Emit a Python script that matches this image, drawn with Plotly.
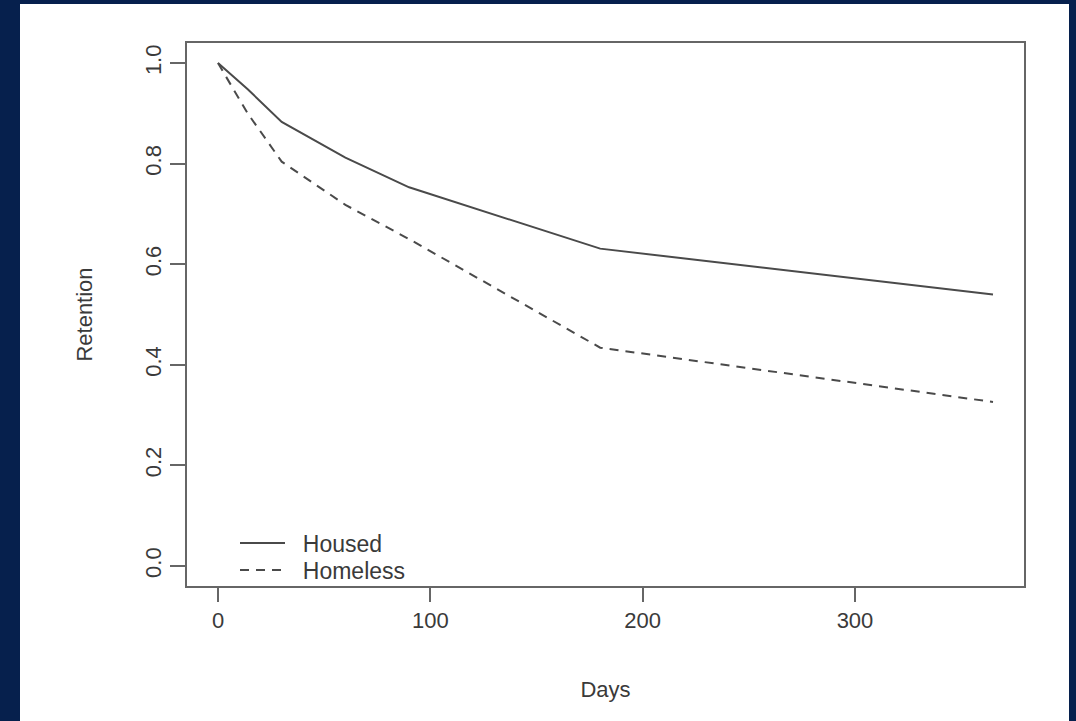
import plotly.graph_objects as go

days = [0, 14, 30, 60, 90, 180, 365]
housed = [1.0, 0.948, 0.883, 0.812, 0.753, 0.631, 0.540]
homeless = [1.0, 0.90, 0.804, 0.718, 0.650, 0.434, 0.326]
x_ticks = [0, 100, 200, 300]
y_ticks = [0.0, 0.2, 0.4, 0.6, 0.8, 1.0]
y_labels = ["0.0", "0.2", "0.4", "0.6", "0.8", "1.0"]
series_names = ["Housed", "Homeless"]

FONT = "Liberation Sans, Arial, Helvetica, sans-serif"
TXT = "#3a3a3a"
LINE = "#4a4a4a"
NAVY = "#06204d"
PAD = "\u00a0\u00a0"

fig = go.Figure()
fig.add_trace(go.Scatter(x=days, y=housed, mode="lines", name=PAD + series_names[0],
                         line=dict(color=LINE, width=2), legend="legend"))
fig.add_trace(go.Scatter(x=days, y=homeless, mode="lines", name=PAD + series_names[1],
                         line=dict(color=LINE, width=2, dash="9px,7px"), legend="legend2"))

L, R, T, B = 187, 52, 43, 135
W, H = 1076, 721
pw, ph = W - L - R, H - T - B

def px(x):
    return (x - L) / pw

def py(y):
    return (H - B - y) / ph

fig.add_shape(type="rect", xref="paper", yref="paper",
              x0=px(20), x1=px(1069), y0=py(740), y1=py(4),
              fillcolor="white", line=dict(width=0), layer="below")

leg_common = dict(xanchor="left", yanchor="middle", bgcolor="rgba(0,0,0,0)",
                  font=dict(size=23, color=TXT), itemwidth=45)

fig.update_layout(
    width=W, height=H,
    margin=dict(l=L, r=R, t=T, b=B),
    paper_bgcolor=NAVY,
    plot_bgcolor="white",
    font=dict(family=FONT, size=22, color=TXT),
    showlegend=True,
    legend=dict(x=px(235), y=py(543), **leg_common),
    legend2=dict(x=px(235), y=py(570), **leg_common),
    xaxis=dict(range=[-14.6, 379.6], tickvals=x_ticks, ticks="outside", ticklen=14,
               tickcolor="#666", tickwidth=1.5, showline=True, linecolor="#666", linewidth=1.5,
               mirror=True, showgrid=False, zeroline=False,
               title=dict(text="Days", standoff=49, font=dict(size=22, color=TXT)),
               tickfont=dict(size=22, color=TXT)),
    yaxis=dict(range=[-0.04, 1.04], tickvals=y_ticks, ticktext=y_labels, ticks="outside",
               ticklen=15, tickcolor="#666", tickwidth=1.5, showline=True, linecolor="#666",
               linewidth=1.5, mirror=True, showgrid=False, zeroline=False, tickangle=-90,
               title=dict(text="Retention", standoff=43, font=dict(size=22, color=TXT)),
               tickfont=dict(size=22, color=TXT)),
)

fig.write_html("out.html", config={"displayModeBar": False},
               post_script="document.body.style.margin='0';document.body.style.background='%s';" % NAVY)
